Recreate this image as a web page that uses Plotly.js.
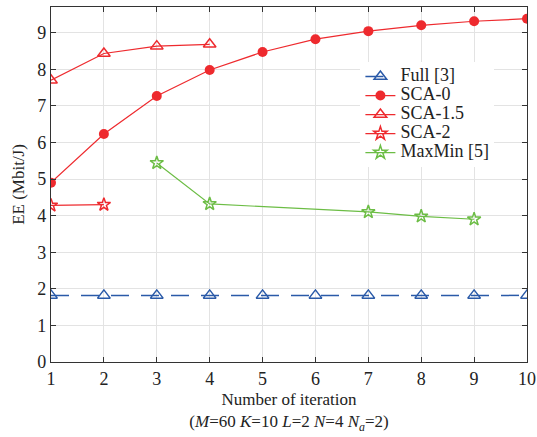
<!DOCTYPE html>
<html><head><meta charset="utf-8">
<script src="https://cdn.plot.ly/plotly-3.0.1.min.js"></script>
<style>body{margin:0;background:#fff}#c{width:537px;height:437px}</style>
</head><body><div id="c"></div>
<script>
const fullX = [1,2,3,4,5,6,7,8,9,10];
const fullY = [1.82,1.82,1.82,1.82,1.82,1.82,1.82,1.82,1.82,1.82];
const sca0X = [1,2,3,4,5,6,7,8,9,10];
const sca0Y = [4.9,6.23,7.27,7.98,8.47,8.82,9.04,9.2,9.31,9.38];
const sca15X = [1,2,3,4];
const sca15Y = [7.7,8.43,8.63,8.68];
const sca2X = [1,2];
const sca2Y = [4.28,4.3];
const maxminX = [3,4,7,8,9];
const maxminY = [5.44,4.32,4.1,3.98,3.9];
const seriesNames = ['Full [3]', 'SCA-0', 'SCA-1.5', 'SCA-2', 'MaxMin [5]'];
const xTicks = [1,2,3,4,5,6,7,8,9,10];
const yTicks = [0,1,2,3,4,5,6,7,8,9];

const big = s => '<span style="font-size:18px">' + s + '</span>';
const red = '#ee2a2e', blue = '#2a5aa8', green = '#6cbd45';
const traces = [
 {x: fullX, y: fullY, name: big(seriesNames[0]), mode: 'lines+markers',
  line: {color: blue, width: 1.5, dash: '18px,12px'},
  marker: {symbol: 'triangle-up-open', size: 11, color: blue, line: {width: 1.5}}},
 {x: sca0X, y: sca0Y, name: big(seriesNames[1]), mode: 'lines+markers',
  line: {color: red, width: 1.2},
  marker: {symbol: 'circle', size: 10, color: red}},
 {x: sca15X, y: sca15Y, name: big(seriesNames[2]), mode: 'lines+markers',
  line: {color: red, width: 1.2},
  marker: {symbol: 'triangle-up-open', size: 11, color: red, line: {width: 1.5}}},
 {x: sca2X, y: sca2Y, name: big(seriesNames[3]), mode: 'lines+markers',
  line: {color: red, width: 1.2},
  marker: {symbol: 'star-open', size: 10, color: red, line: {width: 1.5}}},
 {x: maxminX, y: maxminY, name: big(seriesNames[4]), mode: 'lines+markers',
  line: {color: green, width: 1.2},
  marker: {symbol: 'star-open', size: 10, color: green, line: {width: 1.5}}}
];
const fam = 'Liberation Serif';
const tickFont = {family: fam, size: 18, color: '#222'};
const titleFont = {family: fam, size: 17, color: '#222'};
const layout = {
 width: 537, height: 437,
 margin: {l: 51, r: 10, t: 7, b: 75},
 paper_bgcolor: '#fff', plot_bgcolor: '#fff',
 font: tickFont,
 showlegend: true,
 legend: {x: 0.65, y: 0.845, xanchor: 'left', yanchor: 'top', bgcolor: 'rgba(255,255,255,1)',
   font: {family: fam, size: 12, color: '#222'}, tracegroupgap: 0},
 xaxis: {range: [1, 10], tickvals: xTicks, ticktext: xTicks.map(String),
   showgrid: true, gridcolor: '#e3e3e3', gridwidth: 1,
   showline: true, linecolor: '#333', linewidth: 1.2, mirror: 'ticks',
   ticks: 'inside', ticklen: 5, tickcolor: '#333', zeroline: false,
   tickfont: tickFont,
   title: {text: 'Number of iteration<br>(<i>M</i>=60 <i>K</i>=10 <i>L</i>=2 <i>N</i>=4 <i>N</i><sub><i>a</i></sub>=2)', font: titleFont, standoff: 5}},
 yaxis: {range: [0, 9.7], tickvals: yTicks, ticktext: yTicks.map(String),
   showgrid: true, gridcolor: '#e3e3e3', gridwidth: 1,
   showline: true, linecolor: '#333', linewidth: 1.2, mirror: 'ticks',
   ticks: 'inside', ticklen: 5, tickcolor: '#333', zeroline: false,
   tickfont: tickFont,
   title: {text: 'EE (Mbit/J)', font: titleFont, standoff: 8}}
};
Plotly.newPlot('c', traces, layout, {displayModeBar: false, staticPlot: true});
</script></body></html>
